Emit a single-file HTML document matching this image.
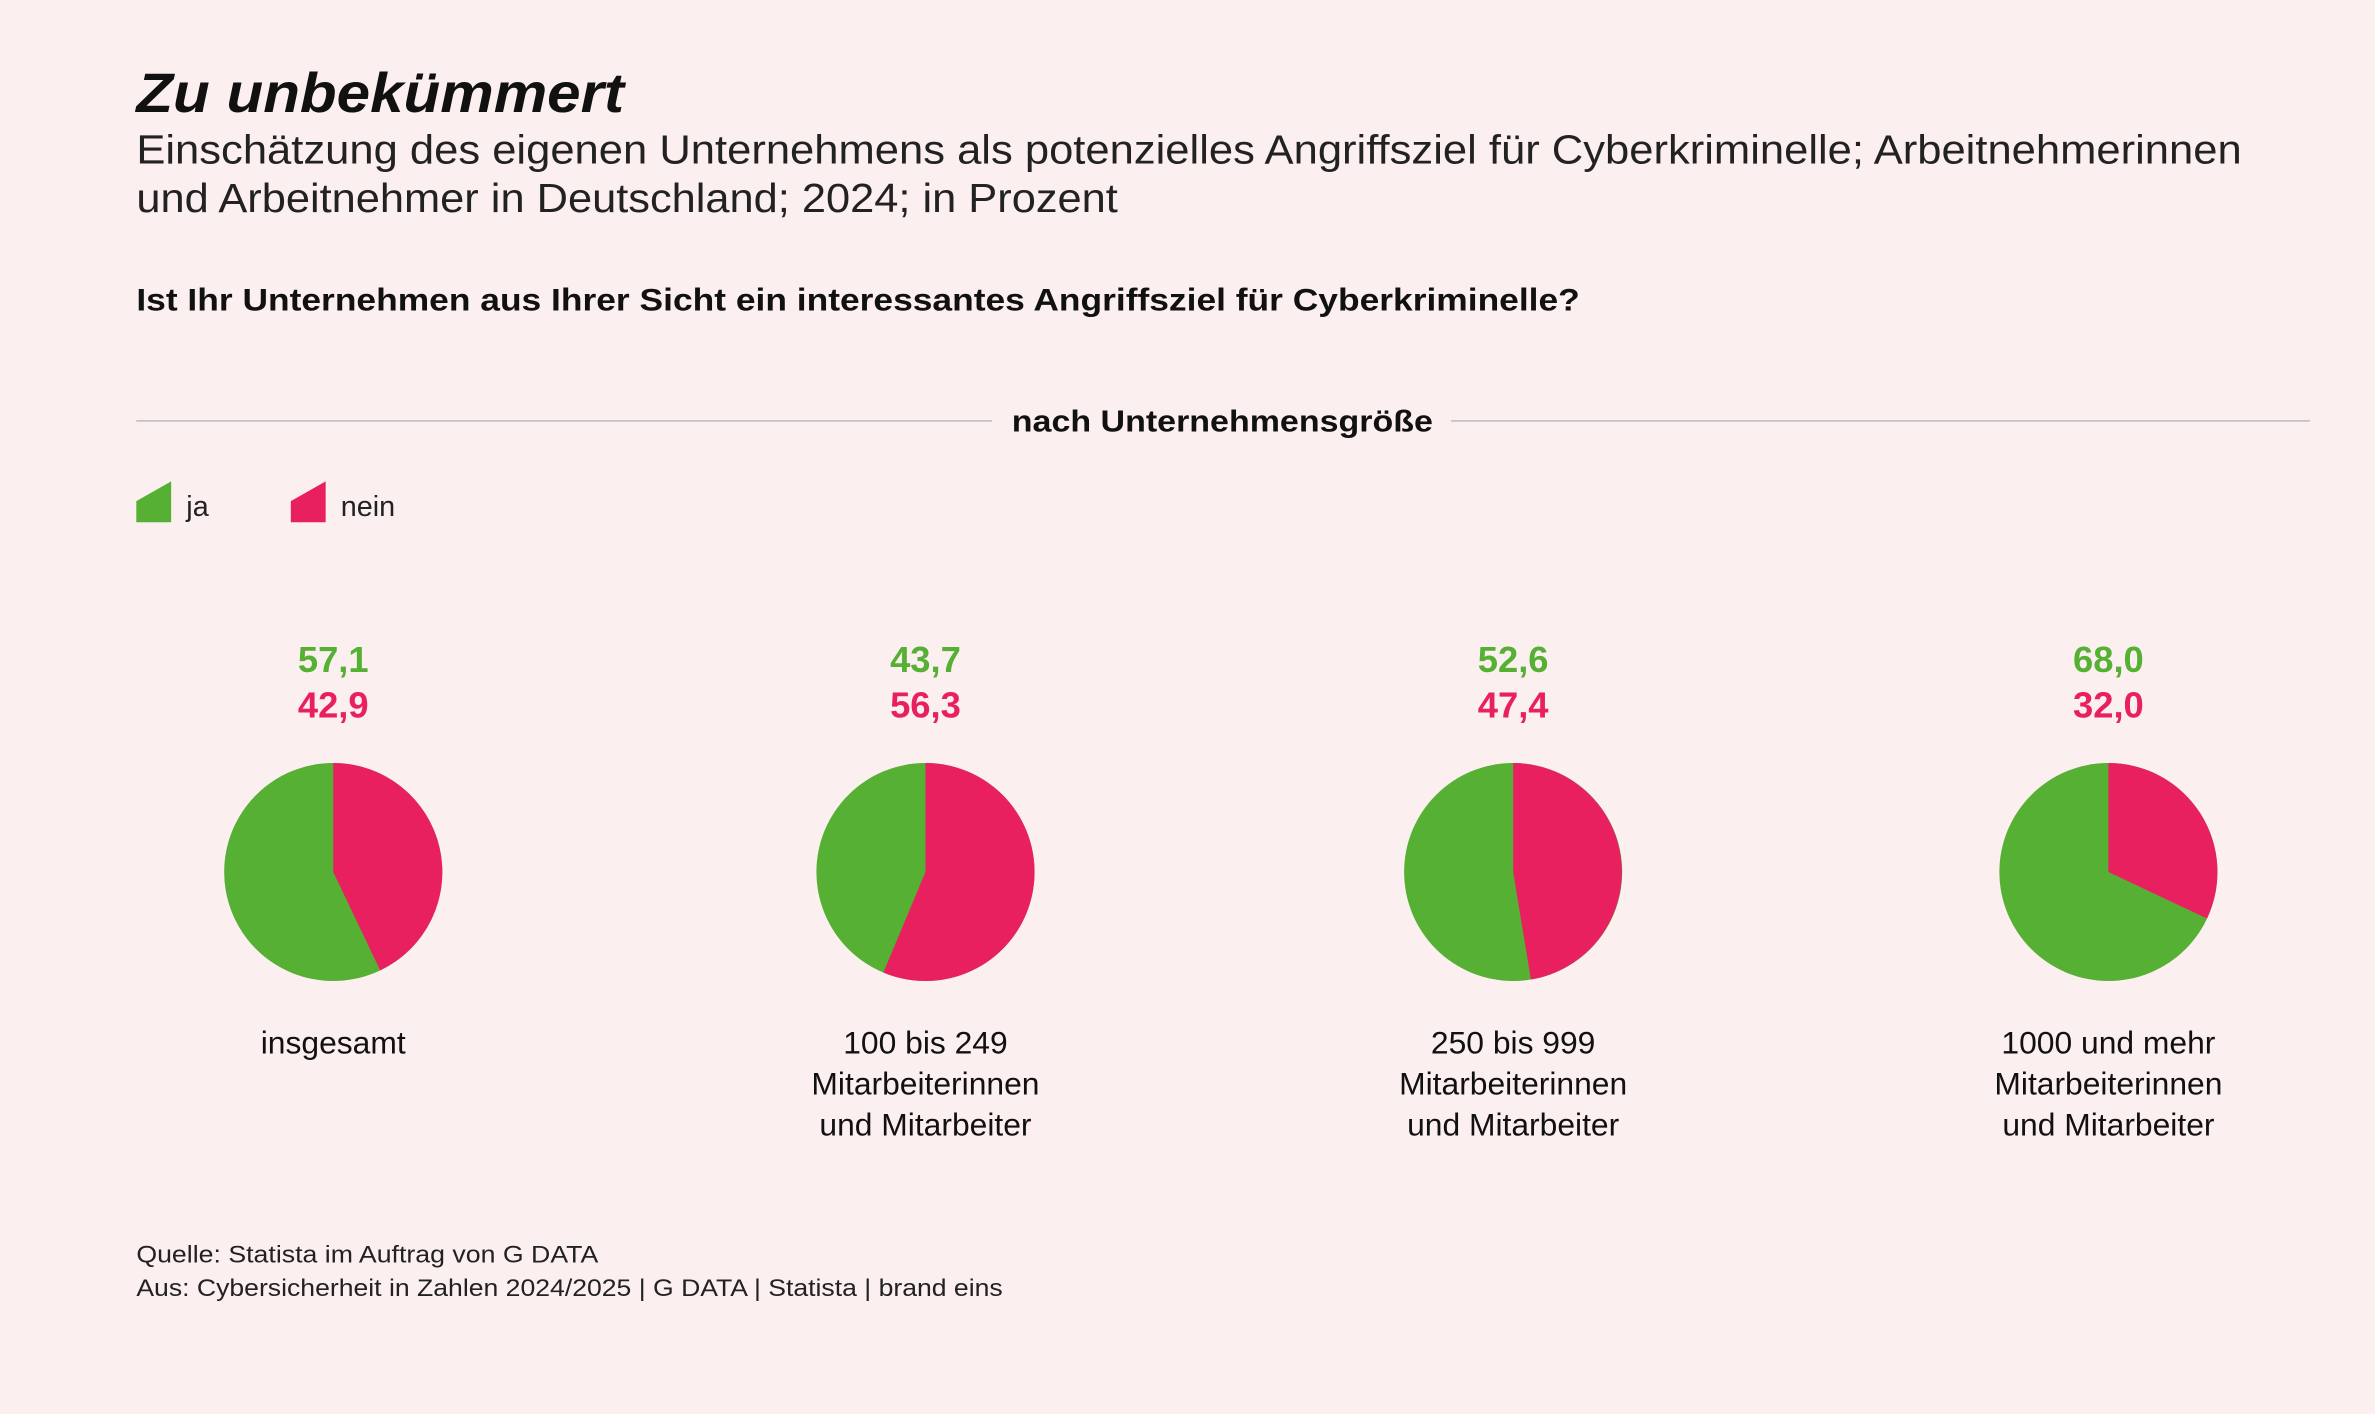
<!DOCTYPE html>
<html><head><meta charset="utf-8"><style>
html,body{margin:0;padding:0;background:#fcefef}
svg{display:block}
text{font-family:"Liberation Sans","DejaVu Sans",sans-serif}
</style></head><body>
<svg width="2375" height="1414" viewBox="0 0 1568 934" preserveAspectRatio="none" xmlns="http://www.w3.org/2000/svg">
<rect width="1568" height="934" fill="#fcefef"/>
<text x="90" y="74" font-size="37" font-weight="bold" font-style="italic" fill="#111" textLength="322" lengthAdjust="spacingAndGlyphs">Zu unbekümmert</text>
<text x="90" y="108" font-size="27" fill="#222" textLength="1390" lengthAdjust="spacingAndGlyphs">Einschätzung des eigenen Unternehmens als potenzielles Angriffsziel für Cyberkriminelle; Arbeitnehmerinnen</text>
<text x="90" y="140" font-size="27" fill="#222" textLength="648" lengthAdjust="spacingAndGlyphs">und Arbeitnehmer in Deutschland; 2024; in Prozent</text>
<text x="90" y="205" font-size="21" font-weight="bold" fill="#111" textLength="953" lengthAdjust="spacingAndGlyphs">Ist Ihr Unternehmen aus Ihrer Sicht ein interessantes Angriffsziel für Cyberkriminelle?</text>
<line x1="90" y1="278" x2="655" y2="278" stroke="#bbb" stroke-width="1"/>
<line x1="958" y1="278" x2="1525" y2="278" stroke="#bbb" stroke-width="1"/>
<text x="807" y="285" font-size="20" font-weight="bold" fill="#111" text-anchor="middle" textLength="278" lengthAdjust="spacingAndGlyphs">nach Unternehmensgröße</text>
<polygon points="90,345 90,331 113,318 113,345" fill="#55b033"/>
<text x="123" y="341" font-size="19" fill="#222">ja</text>
<polygon points="192,345 192,331 215,318 215,345" fill="#e82060"/>
<text x="225" y="341" font-size="19" fill="#222">nein</text>
<g font-size="24" font-weight="bold" text-anchor="middle">
<text x="220" y="444" fill="#55b033">57,1</text><text x="220" y="474" fill="#e82060">42,9</text>
<text x="611" y="444" fill="#55b033">43,7</text><text x="611" y="474" fill="#e82060">56,3</text>
<text x="999" y="444" fill="#55b033">52,6</text><text x="999" y="474" fill="#e82060">47,4</text>
<text x="1392" y="444" fill="#55b033">68,0</text><text x="1392" y="474" fill="#e82060">32,0</text>
</g>
<circle cx="220" cy="576" r="72" fill="#55b033"/>
<path d="M220,576 L220,504 A72,72 0 0 1 251,641 Z" fill="#e82060"/>
<circle cx="611" cy="576" r="72" fill="#55b033"/>
<path d="M611,576 L611,504 A72,72 0 1 1 583.2,642.4 Z" fill="#e82060"/>
<circle cx="999" cy="576" r="72" fill="#55b033"/>
<path d="M999,576 L999,504 A72,72 0 0 1 1010.7,647 Z" fill="#e82060"/>
<circle cx="1392" cy="576" r="72" fill="#55b033"/>
<path d="M1392,576 L1392,504 A72,72 0 0 1 1457.1,606.7 Z" fill="#e82060"/>
<g font-size="21" fill="#111" text-anchor="middle">
<text x="220" y="696">insgesamt</text>
<text x="611" y="696">100 bis 249</text><text x="611" y="723">Mitarbeiterinnen</text><text x="611" y="750">und Mitarbeiter</text>
<text x="999" y="696">250 bis 999</text><text x="999" y="723">Mitarbeiterinnen</text><text x="999" y="750">und Mitarbeiter</text>
<text x="1392" y="696">1000 und mehr</text><text x="1392" y="723">Mitarbeiterinnen</text><text x="1392" y="750">und Mitarbeiter</text>
</g>
<text x="90" y="834" font-size="16" fill="#222" textLength="305" lengthAdjust="spacingAndGlyphs">Quelle: Statista im Auftrag von G DATA</text>
<text x="90" y="856" font-size="16" fill="#222" textLength="572" lengthAdjust="spacingAndGlyphs">Aus: Cybersicherheit in Zahlen 2024/2025 | G DATA | Statista | brand eins</text>
</svg>
</body></html>
